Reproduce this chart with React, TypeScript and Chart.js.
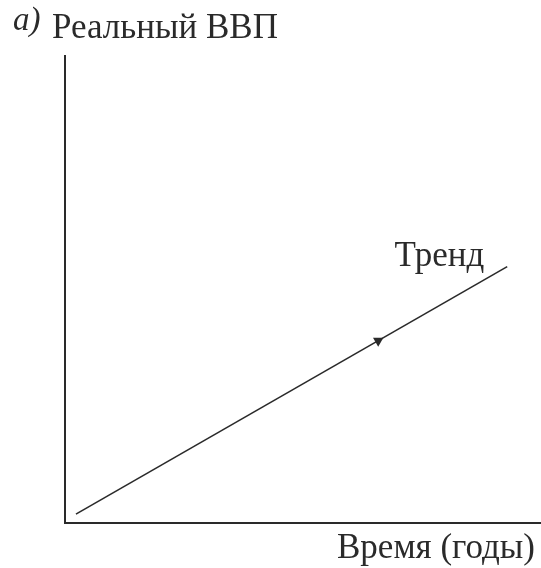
import React, { useEffect, useRef } from "react";
import { Chart, registerables } from "chart.js";

Chart.register(...registerables);

// Trend line endpoints (abstract units: time vs. real GDP)
const trendX = [2.3, 92.9];
const trendY = [1.9, 54.9];
// Direction arrow on the trend
const arrowX = [65.8];
const arrowY = [39.0];

const yAxisLabel = "Реальный ВВП";
const panelLabel = "а)";
const xAxisLabel = "Время (годы)";
const trendLabel = "Тренд";

const INK = "#2a2a2a";
const SERIF = "'Liberation Serif', 'DejaVu Serif', serif";

const textPlugin = {
  id: "texts",
  afterDraw(chart: any) {
    const ctx = chart.ctx;
    const xs = chart.scales.x;
    const ys = chart.scales.y;
    ctx.save();
    ctx.fillStyle = INK;
    ctx.textBaseline = "alphabetic";
    ctx.textAlign = "left";
    ctx.font = `italic 33px ${SERIF}`;
    ctx.fillText(panelLabel, 13, 30);
    ctx.font = `35px ${SERIF}`;
    ctx.fillText(yAxisLabel, 52, 38);
    ctx.textAlign = "right";
    ctx.fillText(trendLabel, xs.getPixelForValue(trendX[1]) - 23, ys.getPixelForValue(trendY[1]) - 1);
    ctx.fillText(xAxisLabel, 535, chart.chartArea.bottom + 35);
    ctx.restore();
  },
};

export default function App() {
  const ref = useRef<HTMLCanvasElement>(null);
  useEffect(() => {
    if (!ref.current) return;
    const chart = new Chart(ref.current, {
      type: "line",
      data: {
        datasets: [
          {
            data: trendX.map((x, i) => ({ x, y: trendY[i] })),
            borderColor: INK,
            borderWidth: 1.6,
            pointRadius: 0,
            tension: 0,
          },
          {
            data: arrowX.map((x, i) => ({ x, y: arrowY[i] })),
            showLine: false,
            pointStyle: "triangle",
            rotation: 60,
            pointRadius: 6,
            backgroundColor: INK,
            borderColor: INK,
            borderWidth: 0,
          },
        ],
      },
      options: {
        responsive: false,
        animation: false,
        events: [],
        layout: { autoPadding: false, padding: { left: 65, top: 56, right: 0, bottom: 45 } },
        plugins: { legend: { display: false }, tooltip: { enabled: false }, title: { display: false } },
        scales: {
          x: {
            type: "linear",
            min: 0,
            max: 100,
            grid: { display: false, drawTicks: false },
            ticks: { display: false },
            border: { display: true, color: INK, width: 2 },
            afterFit: (s: any) => { s.height = 0; },
          },
          y: {
            type: "linear",
            min: 0,
            max: 100,
            grid: { display: false, drawTicks: false },
            ticks: { display: false },
            border: { display: true, color: INK, width: 2 },
            afterFit: (s: any) => { s.width = 0; },
          },
        },
      },
      plugins: [textPlugin],
    });
    return () => chart.destroy();
  }, []);
  return (
    <div style={{ position: "fixed", left: 0, top: 0, width: 541, height: 568, background: "#fff" }}>
      <canvas ref={ref} width={541} height={568} style={{ display: "block" }} />
    </div>
  );
}
